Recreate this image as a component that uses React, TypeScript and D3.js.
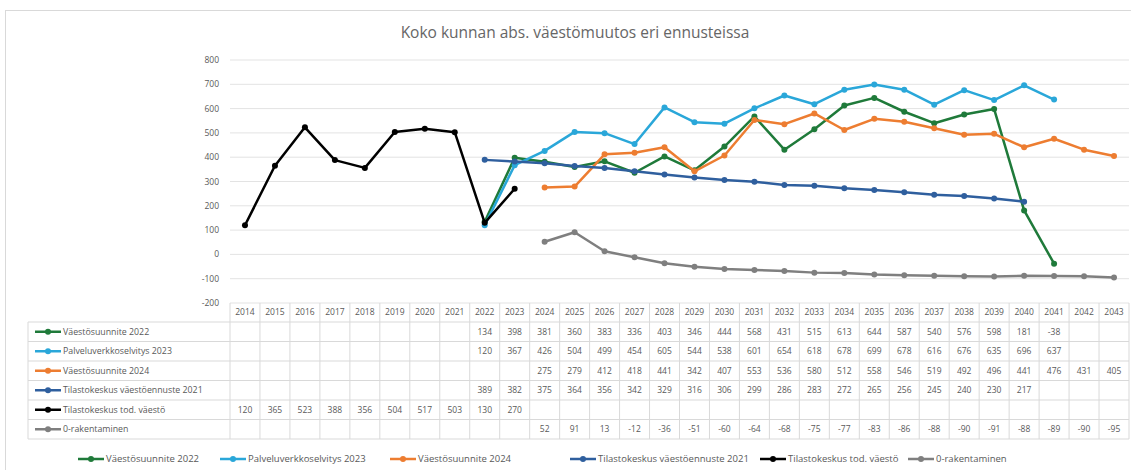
import * as d3 from 'd3';
import React from 'react';

const years = [
  '2014', '2015', '2016', '2017', '2018', '2019', '2020', '2021', '2022', '2023',
  '2024', '2025', '2026', '2027', '2028', '2029', '2030', '2031', '2032', '2033',
  '2034', '2035', '2036', '2037', '2038', '2039', '2040', '2041', '2042', '2043',
];

const yTicks = [-200, -100, 0, 100, 200, 300, 400, 500, 600, 700, 800];

// values start at the year given in `start`
const suunnite2022 = [134, 398, 381, 360, 383, 336, 403, 346, 444, 568, 431, 515, 613, 644, 587, 540, 576, 598, 181, -38];
const palveluverkko2023 = [120, 367, 426, 504, 499, 454, 605, 544, 538, 601, 654, 618, 678, 699, 678, 616, 676, 635, 696, 637];
const suunnite2024 = [275, 279, 412, 418, 441, 342, 407, 553, 536, 580, 512, 558, 546, 519, 492, 496, 441, 476, 431, 405];
const tkEnnuste2021 = [389, 382, 375, 364, 356, 342, 329, 316, 306, 299, 286, 283, 272, 265, 256, 245, 240, 230, 217];
const tkToteutunut = [120, 365, 523, 388, 356, 504, 517, 503, 130, 270];
const nollaRakentaminen = [52, 91, 13, -12, -36, -51, -60, -64, -68, -75, -77, -83, -86, -88, -90, -91, -88, -89, -90, -95];

const seriesNames = [
  'Väestösuunnite 2022',
  'Palveluverkkoselvitys 2023',
  'Väestösuunnite 2024',
  'Tilastokeskus väestöennuste 2021',
  'Tilastokeskus tod. väestö',
  '0-rakentaminen',
];
const seriesStart = ['2022', '2022', '2024', '2022', '2014', '2024'];
const seriesValues = [suunnite2022, palveluverkko2023, suunnite2024, tkEnnuste2021, tkToteutunut, nollaRakentaminen];
const seriesColors = ['#1f7a3a', '#2aa7d9', '#ed7d31', '#2f5f9e', '#000000', '#7f7f7f'];

const W = 1131;
const H = 470;
const plot = { left: 230, right: 1129, top: 60, bottom: 303 };
const tableTop = 322;
const rowH = 19.5;
const tableLeft = 28;
const legendY = 459;
const legendX = [78, 220, 390, 570, 760, 908];
const font = '"Open Sans", "Noto Sans", sans-serif';
const textColor = '#595959';

export default function App() {
  const x = d3.scaleBand<string>().domain(years).range([plot.left, plot.right]);
  const cx = (yr: string) => (x(yr) as number) + x.bandwidth() / 2;
  const y = d3.scaleLinear().domain([-200, 800]).range([plot.bottom, plot.top]);

  const series = seriesNames.map((name, i) => {
    const s = years.indexOf(seriesStart[i]);
    const pts = years.map((yr, j) => {
      const k = j - s;
      const v = k >= 0 && k < seriesValues[i].length ? seriesValues[i][k] : null;
      return { yr, v };
    });
    return { name, color: seriesColors[i], pts };
  });

  const line = d3
    .line<{ yr: string; v: number | null }>()
    .defined((d) => d.v !== null)
    .x((d) => cx(d.yr))
    .y((d) => y(d.v as number));

  const tableBottom = tableTop + rowH * series.length;

  const key = (px: number, py: number, color: string) => (
    <g>
      <line x1={px} x2={px + 26} y1={py} y2={py} stroke={color} strokeWidth={2.5} />
      <circle cx={px + 13} cy={py} r={3} fill={color} />
    </g>
  );

  return (
    <svg
      width={W}
      height={H}
      style={{ position: 'absolute', left: 0, top: 0, background: '#fff' }}
      fontFamily={font}
    >
      <rect x={5.5} y={10.5} width={W} height={H - 6} fill="#fff" stroke="#d9d9d9" />

      <text x={575} y={38} textAnchor="middle" fontSize={15.5} fill="#666">
        Koko kunnan  abs. väestömuutos eri ennusteissa
      </text>

      {/* grid + y axis */}
      {yTicks.map((t) => (
        <g key={t}>
          <line x1={plot.left} x2={plot.right} y1={y(t)} y2={y(t)} stroke="#e3e3e3" strokeWidth={1} />
          <text x={219} y={y(t) + 3} textAnchor="end" fontSize={8.5} fill={textColor}>
            {t}
          </text>
        </g>
      ))}

      {/* table */}
      {d3.range(series.length + 1).map((i) => (
        <line
          key={'h' + i}
          x1={tableLeft}
          x2={plot.right}
          y1={tableTop + i * rowH}
          y2={tableTop + i * rowH}
          stroke="#d9d9d9"
        />
      ))}
      <line x1={tableLeft} x2={tableLeft} y1={tableTop} y2={tableBottom} stroke="#d9d9d9" />
      {years.map((yr) => (
        <line
          key={'v' + yr}
          x1={x(yr)}
          x2={x(yr)}
          y1={plot.bottom}
          y2={tableBottom}
          stroke="#d9d9d9"
        />
      ))}
      <line x1={plot.right} x2={plot.right} y1={plot.bottom} y2={tableBottom} stroke="#d9d9d9" />
      {years.map((yr) => (
        <text key={'x' + yr} x={cx(yr)} y={315} textAnchor="middle" fontSize={8.5} fill={textColor}>
          {yr}
        </text>
      ))}
      {series.map((s, i) => {
        const ry = tableTop + i * rowH + rowH / 2;
        return (
          <g key={'row' + i}>
            {key(tableLeft + 7, ry, s.color)}
            <text x={tableLeft + 35} y={ry + 3} fontSize={8.8} fill={textColor}>
              {s.name}
            </text>
            {s.pts
              .filter((p) => p.v !== null)
              .map((p) => (
                <text key={p.yr} x={cx(p.yr)} y={ry + 3} textAnchor="middle" fontSize={8.5} fill={textColor}>
                  {p.v}
                </text>
              ))}
          </g>
        );
      })}

      {/* lines */}
      {series.map((s, i) => (
        <g key={'s' + i}>
          <path d={line(s.pts) as string} fill="none" stroke={s.color} strokeWidth={2.5} strokeLinejoin="round" />
          {s.pts
            .filter((p) => p.v !== null)
            .map((p) => (
              <circle key={p.yr} cx={cx(p.yr)} cy={y(p.v as number)} r={3} fill={s.color} />
            ))}
        </g>
      ))}

      {/* legend */}
      {series.map((s, i) => (
        <g key={'lg' + i}>
          {key(legendX[i], legendY, s.color)}
          <text x={legendX[i] + 28} y={legendY + 3} fontSize={9.5} fill={textColor}>
            {s.name}
          </text>
        </g>
      ))}
    </svg>
  );
}
